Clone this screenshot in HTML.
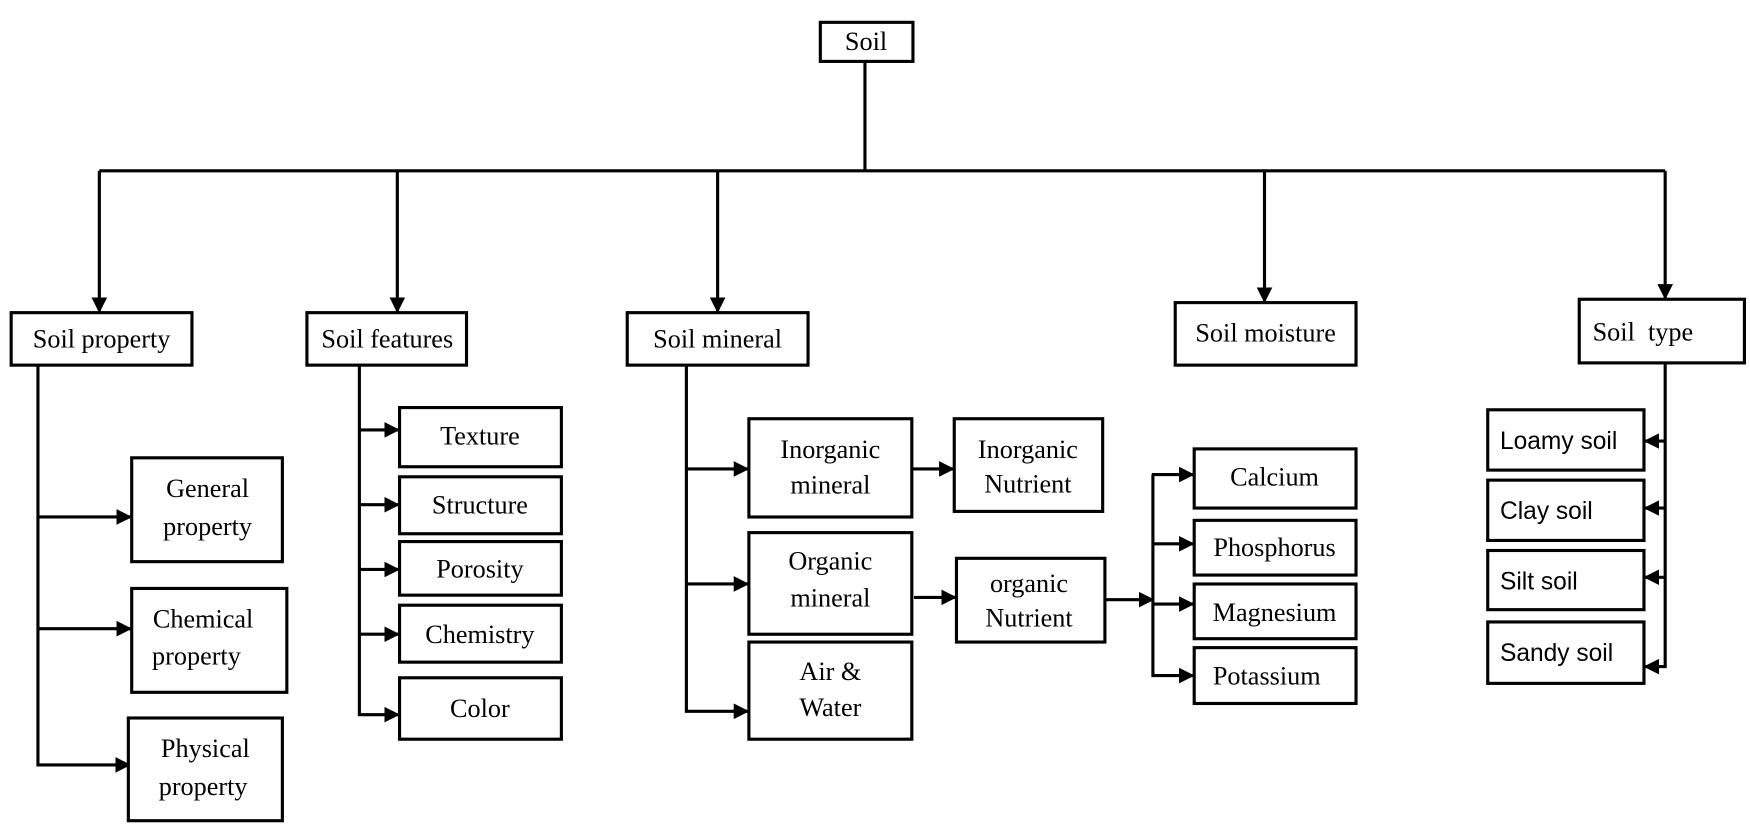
<!DOCTYPE html>
<html><head><meta charset="utf-8"><style>
html,body{margin:0;padding:0;background:#fff;}
svg{display:block;}
.s{font-family:"Liberation Serif",serif;font-size:23.5px;fill:#000;text-anchor:middle;}
.c{font-family:"Liberation Sans",sans-serif;font-size:22px;fill:#000;}
rect{fill:#fff;stroke:#000;stroke-width:2.8;}
line,polyline{stroke:#000;stroke-width:2.8;fill:none;}
</style></head><body>
<svg width="1750" height="833" viewBox="0 0 1568 746" preserveAspectRatio="none" xmlns="http://www.w3.org/2000/svg">
<defs>
<marker id="a" markerWidth="5" markerHeight="5" refX="4.5" refY="2.5" orient="auto" markerUnits="strokeWidth"><path d="M0,0 L5,2.5 L0,5 z" fill="#000"/></marker>
</defs>
<!-- top -->
<rect x="735" y="20" width="83" height="35"/>
<text class="s" x="776" y="45">Soil</text>
<line x1="775" y1="55" x2="775" y2="153"/>
<line x1="89" y1="153" x2="1492" y2="153"/>
<line x1="89" y1="153" x2="89" y2="279" marker-end="url(#a)"/>
<line x1="356" y1="153" x2="356" y2="279" marker-end="url(#a)"/>
<line x1="643" y1="153" x2="643" y2="279" marker-end="url(#a)"/>
<line x1="1133" y1="153" x2="1133" y2="270" marker-end="url(#a)"/>
<line x1="1492" y1="153" x2="1492" y2="267" marker-end="url(#a)"/>

<rect x="10" y="280" width="162" height="47"/><text class="s" x="91" y="311">Soil property</text>
<rect x="275" y="280" width="143" height="47"/><text class="s" x="347" y="311">Soil features</text>
<rect x="562" y="280" width="162" height="47"/><text class="s" x="643" y="311">Soil mineral</text>
<rect x="1053" y="271" width="162" height="56"/><text class="s" x="1134" y="306">Soil moisture</text>
<rect x="1415" y="268" width="148" height="57"/><text class="s" x="1472" y="305">Soil&#160; type</text>

<!-- soil property -->
<polyline points="34,327 34,685 116,685" marker-end="url(#a)"/>
<line x1="34" y1="463" x2="117" y2="463" marker-end="url(#a)"/>
<line x1="34" y1="563" x2="117" y2="563" marker-end="url(#a)"/>
<rect x="118" y="410" width="135" height="93"/><text class="s" x="186" y="445">General</text><text class="s" x="186" y="479">property</text>
<rect x="118" y="527" width="139" height="93"/><text class="s" x="182" y="562">Chemical</text><text class="s" x="176" y="595">property</text>
<rect x="115" y="643" width="138" height="92"/><text class="s" x="184" y="678">Physical</text><text class="s" x="182" y="712">property</text>

<!-- soil features -->
<polyline points="322,327 322,640 357,640" marker-end="url(#a)"/>
<line x1="322" y1="385" x2="357" y2="385" marker-end="url(#a)"/>
<line x1="322" y1="452" x2="357" y2="452" marker-end="url(#a)"/>
<line x1="322" y1="510" x2="357" y2="510" marker-end="url(#a)"/>
<line x1="322" y1="568" x2="357" y2="568" marker-end="url(#a)"/>
<rect x="358" y="365" width="145" height="53"/><text class="s" x="430" y="398">Texture</text>
<rect x="358" y="427" width="145" height="51"/><text class="s" x="430" y="460">Structure</text>
<rect x="358" y="485" width="145" height="48"/><text class="s" x="430" y="517">Porosity</text>
<rect x="358" y="542" width="145" height="51"/><text class="s" x="430" y="576">Chemistry</text>
<rect x="358" y="607" width="145" height="55"/><text class="s" x="430" y="642">Color</text>

<!-- soil mineral -->
<polyline points="615,327 615,637 670,637" marker-end="url(#a)"/>
<line x1="615" y1="420" x2="670" y2="420" marker-end="url(#a)"/>
<line x1="615" y1="523" x2="670" y2="523" marker-end="url(#a)"/>
<rect x="671" y="375" width="146" height="88"/><text class="s" x="744" y="410">Inorganic</text><text class="s" x="744" y="442">mineral</text>
<rect x="671" y="477" width="146" height="91"/><text class="s" x="744" y="510">Organic</text><text class="s" x="744" y="543">mineral</text>
<rect x="671" y="575" width="146" height="87"/><text class="s" x="744" y="609">Air &amp;</text><text class="s" x="744" y="641">Water</text>
<line x1="817" y1="420" x2="854" y2="420" marker-end="url(#a)"/>
<line x1="819" y1="535" x2="856" y2="535" marker-end="url(#a)"/>
<rect x="855" y="375" width="133" height="83"/><text class="s" x="921" y="410">Inorganic</text><text class="s" x="921" y="441">Nutrient</text>
<rect x="857" y="500" width="133" height="75"/><text class="s" x="922" y="530">organic</text><text class="s" x="922" y="561">Nutrient</text>
<line x1="990" y1="537" x2="1033" y2="537" marker-end="url(#a)"/>
<polyline points="1033,425 1033,605 1069,605" marker-end="url(#a)"/>
<line x1="1032" y1="425" x2="1069" y2="425" marker-end="url(#a)"/>
<line x1="1033" y1="487" x2="1069" y2="487" marker-end="url(#a)"/>
<line x1="1033" y1="541" x2="1069" y2="541" marker-end="url(#a)"/>
<rect x="1070" y="402" width="145" height="53"/><text class="s" x="1142" y="435">Calcium</text>
<rect x="1070" y="466" width="145" height="49"/><text class="s" x="1142" y="498">Phosphorus</text>
<rect x="1070" y="523" width="145" height="49"/><text class="s" x="1142" y="556">Magnesium</text>
<rect x="1070" y="580" width="145" height="50"/><text class="s" x="1135" y="613">Potassium</text>

<!-- soil type -->
<polyline points="1492,325 1492,597 1474,597" marker-end="url(#a)"/>
<line x1="1492" y1="395" x2="1474" y2="395" marker-end="url(#a)"/>
<line x1="1492" y1="455" x2="1474" y2="455" marker-end="url(#a)"/>
<line x1="1492" y1="517" x2="1474" y2="517" marker-end="url(#a)"/>
<rect x="1333" y="367" width="140" height="54"/><text class="c" x="1344" y="402">Loamy soil</text>
<rect x="1333" y="430" width="140" height="54"/><text class="c" x="1344" y="465">Clay soil</text>
<rect x="1333" y="493" width="140" height="53"/><text class="c" x="1344" y="528">Silt soil</text>
<rect x="1333" y="557" width="140" height="55"/><text class="c" x="1344" y="592">Sandy soil</text>
</svg>
</body></html>
